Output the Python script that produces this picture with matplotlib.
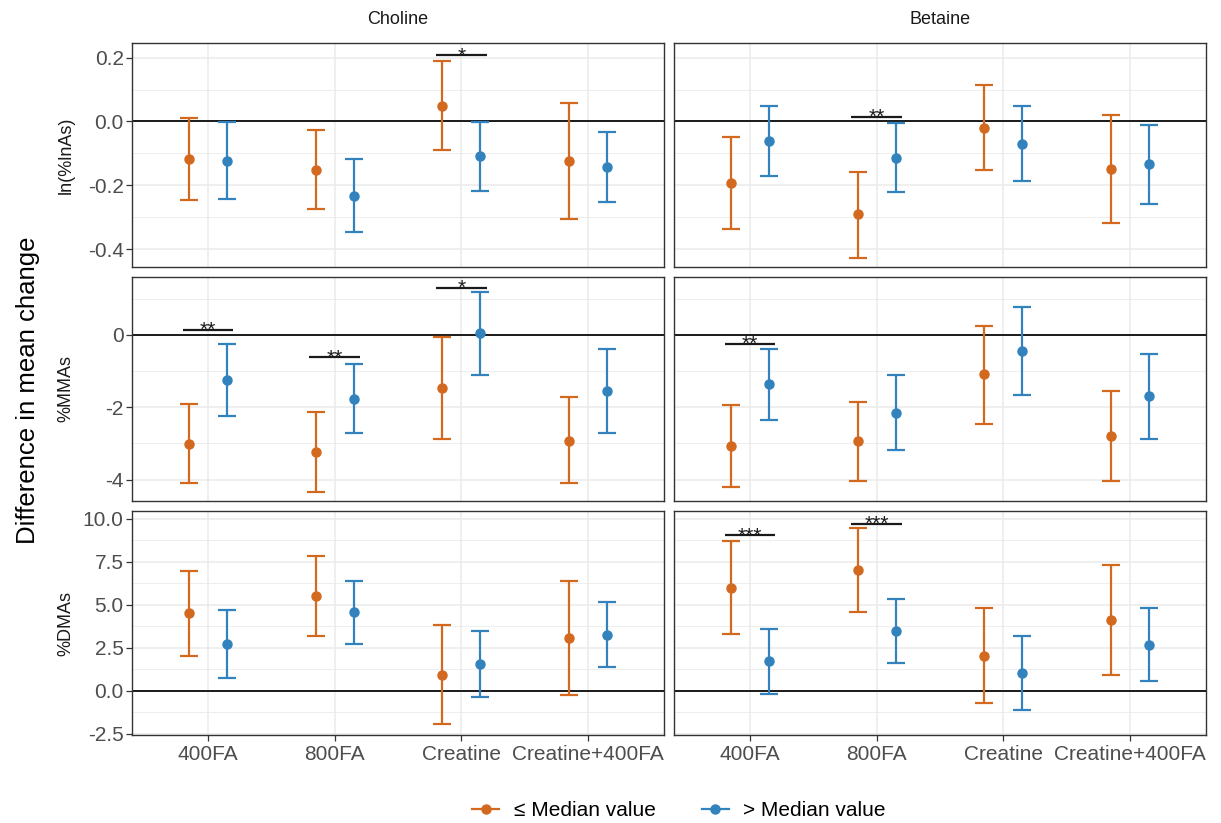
import matplotlib
matplotlib.use("Agg")
import matplotlib.pyplot as plt
from matplotlib.lines import Line2D
import numpy as np

plt.rcParams['font.family'] = ['Liberation Sans', 'DejaVu Sans']

categories = ["400FA", "800FA", "Creatine", "Creatine+400FA"]
nutrients = ["Choline", "Betaine"]
outcomes = ["ln(%lnAs)", "%MMAs", "%DMAs"]
groups = ["\u2264 Median value", "> Median value"]

# ln(%lnAs) - Choline
lnas_cho_low_est = [-0.117, -0.152, 0.050, -0.125]
lnas_cho_low_lo = [-0.246, -0.273, -0.089, -0.306]
lnas_cho_low_hi = [0.012, -0.028, 0.190, 0.058]
lnas_cho_high_est = [-0.123, -0.232, -0.109, -0.143]
lnas_cho_high_lo = [-0.242, -0.346, -0.219, -0.253]
lnas_cho_high_hi = [-0.002, -0.117, -0.002, -0.034]
# ln(%lnAs) - Betaine
lnas_bet_low_est = [-0.193, -0.291, -0.019, -0.150]
lnas_bet_low_lo = [-0.336, -0.427, -0.153, -0.318]
lnas_bet_low_hi = [-0.050, -0.157, 0.115, 0.020]
lnas_bet_high_est = [-0.062, -0.115, -0.069, -0.134]
lnas_bet_high_lo = [-0.172, -0.220, -0.186, -0.258]
lnas_bet_high_hi = [0.049, -0.006, 0.050, -0.012]
# %MMAs - Choline
mma_cho_low_est = [-3.01, -3.24, -1.47, -2.92]
mma_cho_low_lo = [-4.09, -4.34, -2.88, -4.10]
mma_cho_low_hi = [-1.92, -2.13, -0.07, -1.72]
mma_cho_high_est = [-1.26, -1.77, 0.05, -1.55]
mma_cho_high_lo = [-2.25, -2.72, -1.10, -2.72]
mma_cho_high_hi = [-0.26, -0.81, 1.19, -0.39]
# %MMAs - Betaine
mma_bet_low_est = [-3.06, -2.94, -1.09, -2.80]
mma_bet_low_lo = [-4.20, -4.03, -2.45, -4.03]
mma_bet_low_hi = [-1.94, -1.85, 0.25, -1.55]
mma_bet_high_est = [-1.36, -2.16, -0.44, -1.69]
mma_bet_high_lo = [-2.34, -3.18, -1.67, -2.87]
mma_bet_high_hi = [-0.39, -1.12, 0.76, -0.52]
# %DMAs - Choline
dma_cho_low_est = [4.50, 5.52, 0.94, 3.10]
dma_cho_low_lo = [2.02, 3.21, -1.92, -0.23]
dma_cho_low_hi = [6.98, 7.83, 3.81, 6.38]
dma_cho_high_est = [2.71, 4.56, 1.56, 3.25]
dma_cho_high_lo = [0.73, 2.73, -0.38, 1.37]
dma_cho_high_hi = [4.69, 6.38, 3.46, 5.15]
# %DMAs - Betaine
dma_bet_low_est = [6.00, 7.02, 2.02, 4.13]
dma_bet_low_lo = [3.31, 4.60, -0.73, 0.90]
dma_bet_low_hi = [8.69, 9.44, 4.79, 7.33]
dma_bet_high_est = [1.75, 3.46, 1.06, 2.67]
dma_bet_high_lo = [-0.15, 1.63, -1.12, 0.58]
dma_bet_high_hi = [3.60, 5.31, 3.19, 4.79]

# significance brackets
sig_outcome = [0, 0, 1, 1, 1, 1, 2, 2]
sig_nutrient = [0, 1, 0, 0, 0, 1, 1, 1]
sig_category = ["Creatine", "800FA", "400FA", "800FA", "Creatine", "400FA", "400FA", "800FA"]
sig_height = [0.207, 0.014, 0.14, -0.62, 1.30, -0.24, 9.04, 9.71]
sig_label = ["*", "**", "**", "**", "*", "**", "***", "***"]

# y axis ticks per outcome row
yticks_lnas = [-0.4, -0.2, 0.0, 0.2]
yticklabels_lnas = ["-0.4", "-0.2", "0.0", "0.2"]
yticks_mma = [-4, -2, 0]
yticklabels_mma = ["-4", "-2", "0"]
yticks_dma = [-2.5, 0.0, 2.5, 5.0, 7.5, 10.0]
yticklabels_dma = ["-2.5", "0.0", "2.5", "5.0", "7.5", "10.0"]

panels = {
    (0, 0): [(lnas_cho_low_est, lnas_cho_low_lo, lnas_cho_low_hi),
             (lnas_cho_high_est, lnas_cho_high_lo, lnas_cho_high_hi)],
    (0, 1): [(lnas_bet_low_est, lnas_bet_low_lo, lnas_bet_low_hi),
             (lnas_bet_high_est, lnas_bet_high_lo, lnas_bet_high_hi)],
    (1, 0): [(mma_cho_low_est, mma_cho_low_lo, mma_cho_low_hi),
             (mma_cho_high_est, mma_cho_high_lo, mma_cho_high_hi)],
    (1, 1): [(mma_bet_low_est, mma_bet_low_lo, mma_bet_low_hi),
             (mma_bet_high_est, mma_bet_high_lo, mma_bet_high_hi)],
    (2, 0): [(dma_cho_low_est, dma_cho_low_lo, dma_cho_low_hi),
             (dma_cho_high_est, dma_cho_high_lo, dma_cho_high_hi)],
    (2, 1): [(dma_bet_low_est, dma_bet_low_lo, dma_bet_low_hi),
             (dma_bet_high_est, dma_bet_high_lo, dma_bet_high_hi)],
}
row_ticks = [(yticks_lnas, yticklabels_lnas), (yticks_mma, yticklabels_mma),
             (yticks_dma, yticklabels_dma)]
row_limits = [(-0.456, 0.246), (-4.59, 1.60), (-2.56, 10.45)]

colors = ["#D2691E", "#3182BD"]
dodge = [-0.15, 0.15]

W, H = 1221, 823
fig = plt.figure(figsize=(W / 100, H / 100), dpi=100)

col_x = [132, 674]
col_w = 532
row_top = [43, 277, 511]
row_h = 224

x = np.arange(len(categories))
grid_col = "#EBEBEB"
tick_fs = 15

axes = {}
for r in range(3):
    for c in range(2):
        ax = fig.add_axes([col_x[c] / W, 1 - (row_top[r] + row_h) / H, col_w / W, row_h / H])
        axes[(r, c)] = ax
        ticks, labels = row_ticks[r]
        ax.set_yticks(ticks)
        step = ticks[1] - ticks[0]
        mids = [t + step / 2 for t in [ticks[0] - step] + list(ticks)]
        lo_lim, hi_lim = row_limits[r]
        mids = [m for m in mids if lo_lim < m < hi_lim]
        ax.set_yticks(mids, minor=True)
        ax.tick_params(axis='y', which='minor', length=0)
        if c == 0:
            ax.set_yticklabels(labels)
            ax.tick_params(axis='y', which='major', length=4, width=0.9, color="#333333",
                           labelsize=tick_fs, labelcolor="#4D4D4D", pad=2)
        else:
            ax.tick_params(axis='y', which='major', length=0, labelleft=False)
        ax.set_xticks(x)
        if r == 2:
            ax.set_xticklabels(categories)
            ax.tick_params(axis='x', length=4, width=0.9, color="#333333",
                           labelsize=tick_fs, labelcolor="#4D4D4D", pad=3)
        else:
            ax.tick_params(axis='x', length=0, labelbottom=False)
        ax.set_xlim(-0.6, len(categories) - 0.4)
        ax.set_ylim(lo_lim, hi_lim)
        ax.grid(True, which='major', color=grid_col, lw=1.1, zorder=0)
        ax.grid(True, which='minor', axis='y', color=grid_col, lw=0.6, zorder=0)
        ax.set_axisbelow(True)
        for s in ax.spines.values():
            s.set_color("#333333")
            s.set_linewidth(1.0)
        ax.axhline(0, color="#1a1a1a", lw=1.4, zorder=1)

        for g, (est, lo, hi) in enumerate(panels[(r, c)]):
            est = np.array(est)
            lo = np.array(lo)
            hi = np.array(hi)
            ax.errorbar(x + dodge[g], est, yerr=[est - lo, hi - est], fmt='o',
                        color=colors[g], ecolor=colors[g], elinewidth=1.6,
                        capsize=6.7, capthick=1.6, markersize=6.5, zorder=3)

for o, n, cat, h, lab in zip(sig_outcome, sig_nutrient, sig_category, sig_height, sig_label):
    ax = axes[(o, n)]
    xc = categories.index(cat)
    ax.plot([xc - 0.2, xc + 0.2], [h, h], color="#1a1a1a", lw=1.6, zorder=4,
            solid_capstyle='butt', scalex=False, scaley=False)
    ax.annotate(lab, (xc, h), xytext=(0, -4.5), textcoords='offset points',
                ha='center', va='baseline', fontsize=15, color="#1a1a1a", zorder=5)

# strip labels
for c in range(2):
    fig.text((col_x[c] + col_w / 2) / W, 1 - 20 / H, nutrients[c], ha='center', va='center',
             fontsize=13, color="#1A1A1A")

# row labels
for r in range(3):
    fig.text(66 / W, 1 - (row_top[r] + row_h / 2) / H, outcomes[r], rotation=90,
             ha='center', va='center', fontsize=13, color="#1A1A1A")

fig.text(28 / W, 1 - 390 / H, "Difference in mean change", rotation=90,
         ha='center', va='center', fontsize=18.5, color="#000000")

handles = [Line2D([0], [0], color=colors[g], marker='o', markersize=6.5, lw=1.6) for g in range(2)]
fig.legend(handles, groups, loc='center', bbox_to_anchor=(679 / W, 1 - 811 / H), ncol=2,
           frameon=False, fontsize=15, handlelength=1.3, handletextpad=0.7,
           columnspacing=2.2)

fig.savefig("out.png", dpi=100)
